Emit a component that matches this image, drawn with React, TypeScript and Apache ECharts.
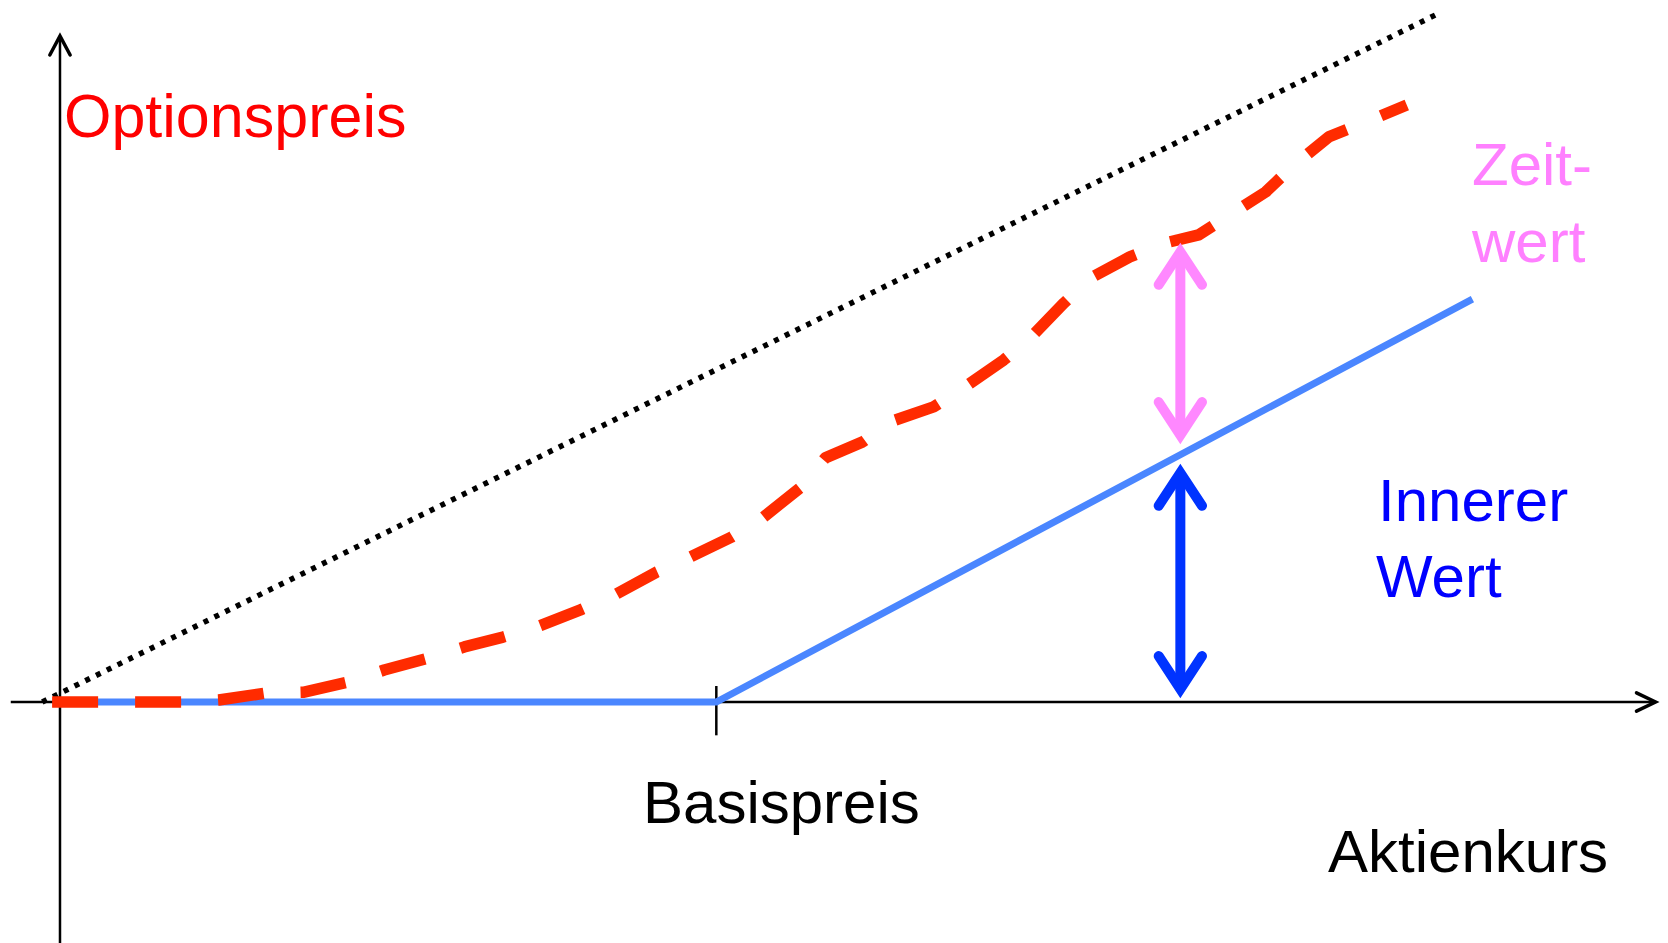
import React, { useEffect, useRef } from "react";
import * as echarts from "echarts";

// ---- Data (x = Aktienkurs, Basispreis = 100; y = Optionspreis) ----
const strikePrice = 100;

const optionPriceX = [-1.2, 5.8, 11.3, 18.8, 24.2, 31.3, 37.2, 43.9, 49.4, 56.1, 61.6, 67.5, 72.7, 79.3, 84.5, 90.9, 96.0, 102.3, 107.0, 112.7, 116.6, 122.3, 126.5, 133.1, 137.8, 143.8, 148.0, 153.0, 157.0, 163.0, 168.4, 173.5, 177.7, 183.7, 187.7, 193.3, 198.6, 205.2];
const optionPriceY = [0, 0, 0, 0, 0.6, 2.6, 2.9, 5.9, 9.4, 12.9, 16.2, 19.1, 22.1, 27.1, 31.5, 38.2, 42.6, 48.5, 54.1, 62.9, 71.8, 76.5, 82.4, 86.8, 92.6, 100.6, 107.4, 117.4, 124.7, 130.9, 135.0, 137.4, 142.6, 150.0, 157.4, 166.2, 170.3, 175.6];

const intrinsicX = [-1, strikePrice, 215.2];
const intrinsicY = [0, 0, 118.5];

const upperBoundX = [-2.7, 209.6];
const upperBoundY = [0, 202.1];

// axis extents (data units)
const xAxisExtent = [-7.5, 243.1];
const yAxisExtent = [-70.9, 195.9];
const strikeTickExtent = [4.7, -9.8];

// double arrows at one stock price: [x, yBottom, yTop]
const timeValueArrow = [170.7, 78.5, 132.4];
const intrinsicArrow = [170.7, 3.8, 67.4];

// labels
const labelOption = "Optionspreis";
const labelStrike = "Basispreis";
const labelStock = "Aktienkurs";
const labelTimeValue = ["Zeit-", "wert"];
const labelIntrinsic = ["Innerer", "Wert"];

const FONT = "'Liberation Sans', Arial, Helvetica, sans-serif";

function zip(xs: number[], ys: number[]) {
  return xs.map((x, i) => [x, ys[i]]);
}

function line(data: number[][], lineStyle: any, z: number) {
  return {
    type: "line",
    data,
    symbol: "none",
    clip: false,
    silent: true,
    z,
    lineStyle,
  };
}

export default function App() {
  const ref = useRef<HTMLDivElement>(null);

  useEffect(() => {
    if (!ref.current) return;
    const chart = echarts.init(ref.current, undefined, { renderer: "svg" });

    const axisStyle = { color: "#000", width: 2.5, cap: "butt" };
    const axisHeadStyle = { color: "#000", width: 3.5, cap: "round", join: "miter" };

    const pink = "#FF88FF";
    const darkBlue = "#0033FF";
    const arrowStyle = (c: string) => ({ color: c, width: 10, cap: "butt" });
    const headStyle = (c: string) => ({ color: c, width: 10, cap: "round", join: "miter" });

    const hwX = 3.3; // half width of arrowheads (x units)
    const hlY = 9.7; // head length (y units)

    const doubleArrow = (a: number[], c: string, z: number) => {
      const [x, y0, y1] = a;
      return [
        line([[x, y0], [x, y1]], arrowStyle(c), z),
        line([[x - hwX, y1 - hlY], [x, y1], [x + hwX, y1 - hlY]], headStyle(c), z),
        line([[x - hwX, y0 + hlY], [x, y0], [x + hwX, y0 + hlY]], headStyle(c), z),
      ];
    };

    const xEnd = xAxisExtent[1];
    const yEnd = yAxisExtent[1];

    const series: any[] = [
      line([[xAxisExtent[0], 0], [xEnd, 0]], axisStyle, 1),
      line([[xEnd - 2.9, 2.7], [xEnd, 0], [xEnd - 2.9, -2.7]], axisHeadStyle, 1),
      line([[0, yAxisExtent[0]], [0, yEnd]], axisStyle, 1),
      line([[-1.55, yEnd - 5.6], [0, yEnd], [1.55, yEnd - 5.6]], axisHeadStyle, 1),
      line([[strikePrice, strikeTickExtent[0]], [strikePrice, strikeTickExtent[1]]], axisStyle, 1),
      line(zip(intrinsicX, intrinsicY), { color: "#4A86FF", width: 7, join: "miter" }, 2),
      line(zip(upperBoundX, upperBoundY), { color: "#000", width: 5.5, type: [5, 7], cap: "butt" }, 3),
      line(zip(optionPriceX, optionPriceY), { color: "#FF2B00", width: 11.5, type: [46, 37], cap: "butt", join: "round" }, 4),
      ...doubleArrow(timeValueArrow, pink, 5),
      ...doubleArrow(intrinsicArrow, darkBlue, 5),
    ];

    const text = (t: string, x: number, baseline: number, fill: string, size = 60) => ({
      type: "text",
      x,
      y: baseline - 0.35 * size,
      silent: true,
      style: {
        text: t,
        fill,
        fontSize: size,
        fontFamily: FONT,
        align: "left",
        verticalAlign: "middle",
      },
    });

    chart.setOption({
      animation: false,
      backgroundColor: "#fff",
      grid: { left: 0, right: 0, top: 22, bottom: 241 },
      xAxis: { type: "value", min: -9.14, max: 245, show: false },
      yAxis: { type: "value", min: 0, max: 200, show: false },
      series,
      graphic: [
        text(labelOption, 64, 137, "#FF0000", 61),
        text(labelStrike, 643, 823, "#000"),
        text(labelStock, 1328, 872, "#000"),
        text(labelTimeValue[0], 1472, 185, "#FF80FF"),
        text(labelTimeValue[1], 1472, 262, "#FF80FF"),
        text(labelIntrinsic[0], 1378, 521, "#0000FF"),
        text(labelIntrinsic[1], 1376, 597, "#0000FF"),
      ],
    });

    return () => chart.dispose();
  }, []);

  return (
    <div
      ref={ref}
      style={{ position: "fixed", left: 0, top: 0, width: 1668, height: 943, background: "#fff" }}
    />
  );
}
